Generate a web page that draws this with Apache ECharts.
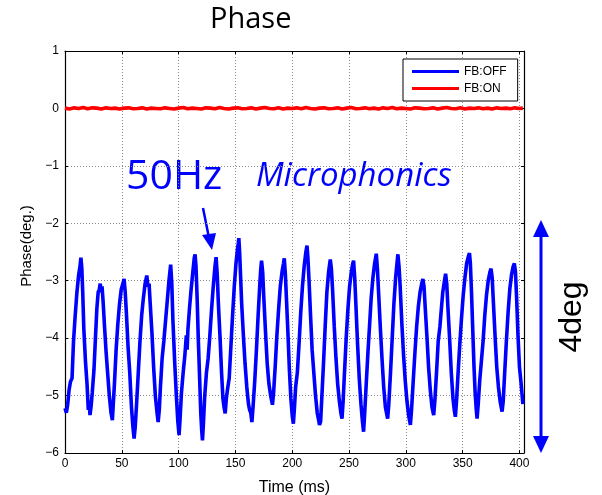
<!DOCTYPE html>
<html>
<head>
<meta charset="utf-8">
<script src="https://cdn.jsdelivr.net/npm/echarts@6/dist/echarts.min.js"></script>
<style>html,body{margin:0;padding:0;background:#fff;}#c{width:602px;height:495px;}</style>
</head>
<body>
<div id="c"></div>
<script>
const titleText = 'Phase';
const xName = 'Time (ms)';
const yName = 'Phase(deg.)';
const seriesNames = ['FB:OFF', 'FB:ON'];
const xTicks = [0, 50, 100, 150, 200, 250, 300, 350, 400];
const yTicks = [-6, -5, -4, -3, -2, -1, 0, 1];

// FB:OFF phase trace [time ms, phase deg]
const fbOff = [
[0,-5.22],[1.2,-5.3],[2.4,-5.15],[3.6,-4.9],[4.8,-4.76],[6.2,-4.7],[7.5,-4.05],[9,-3.6],[10.5,-3.2],[12,-2.9],[13.2,-2.75],[14,-2.6],[14.8,-2.78],[15.6,-3.2],[16.6,-3.85],[18,-4.4],[19.4,-4.8],[20.5,-5.25],[21.3,-5.12],[22,-5.34],[23,-5.18],
[24,-4.95],[25.5,-4.55],[26.8,-4.0],[28,-3.5],[29.2,-3.2],[30.2,-3.15],[31,-3.05],[31.8,-3.2],[32.6,-3.1],[33.5,-3.35],[34.8,-3.8],[36.2,-4.25],[37.5,-4.6],[39,-5.0],[40.5,-5.3],[41.7,-5.43],[42.5,-5.15],
[43.5,-4.8],[45,-4.2],[46.5,-3.75],[48,-3.4],[49.5,-3.15],[51,-3.05],[52,-2.97],[53,-3.2],[54,-3.55],[55.5,-4.15],[57,-4.6],[58.5,-5.2],[59.8,-5.55],[60.8,-5.75],[61.8,-5.55],
[63,-5.15],[64.5,-4.6],[66,-4.05],[67.5,-3.6],[69,-3.3],[70.5,-3.05],[71.3,-3.08],[72,-2.91],[73,-3.1],[74,-3.05],[75,-3.4],[76.5,-3.9],[78,-4.5],[79.5,-5.0],[81,-5.3],[82,-5.46],[83,-5.25],
[84,-4.85],[85.5,-4.35],[87,-4.05],[88.5,-3.7],[90,-3.35],[91.5,-3.0],[93,-2.72],[94,-3.05],[95,-3.7],[96.5,-4.4],[98,-5.0],[99.3,-5.45],[100.4,-5.69],[101.3,-5.4],
[102.5,-4.95],[104,-4.6],[105.5,-4.3],[106.8,-3.95],[107.5,-4.2],[108.2,-3.85],[109.5,-3.5],[111,-3.15],[112.5,-2.85],[113.8,-2.6],[114.5,-2.54],[115.3,-2.75],[116.3,-3.3],[117.3,-4.0],[118.5,-4.7],[119.5,-5.3],[120.3,-5.6],[121,-5.78],[121.8,-5.5],
[123,-5.0],[124.5,-4.6],[126,-4.35],[127.5,-3.95],[129,-3.5],[130.5,-3.1],[132,-2.75],[133,-2.59],[134,-2.9],[135,-3.4],[136.5,-4.0],[137.8,-4.6],[139,-5.05],[140,-5.2],[141,-5.31],[142,-5.05],[143,-4.9],
[144.5,-4.7],[146,-4.15],[147.5,-3.6],[149,-3.1],[150.5,-2.7],[151.8,-2.45],[152.5,-2.35],[153,-2.26],[153.7,-2.5],[154.5,-2.9],[155.5,-3.4],[157,-3.95],[158.5,-4.45],[160,-4.85],[161.5,-5.15],[162.5,-5.25],[163.5,-5.3],[164.5,-5.46],[165.5,-5.2],
[167,-4.75],[168.5,-4.2],[170,-3.6],[171.5,-3.05],[172.3,-2.8],[173,-2.65],[174,-2.85],[175,-3.3],[176.5,-3.9],[178,-4.45],[179.5,-4.8],[181,-5.0],[182.6,-5.16],[183.6,-4.95],
[185,-4.5],[186.5,-3.95],[188,-3.5],[189.5,-3.1],[191,-2.85],[192.3,-2.7],[193,-2.61],[194,-2.9],[195,-3.35],[196.3,-3.95],[197.5,-4.55],[198.8,-5.05],[200,-5.35],[201,-5.49],[202,-5.2],
[203,-4.85],[204.5,-4.6],[206,-4.1],[207.5,-3.55],[209,-3.1],[210.5,-2.75],[212,-2.5],[213,-2.39],[213.8,-2.6],[214.8,-3.0],[216,-3.55],[217.5,-4.2],[219,-4.6],[220.5,-5.0],[222,-5.3],[223,-5.4],[224,-5.51],[225,-5.45],
[226,-5.05],[227.5,-4.45],[229,-3.8],[230.5,-3.2],[232,-2.85],[233.5,-2.63],[234.5,-2.8],[235.5,-3.15],[237,-3.8],[238.5,-4.35],[240,-4.8],[241.5,-5.1],[242.8,-5.3],[243.8,-5.40],[244.8,-5.1],
[246,-4.6],[247.5,-4.0],[249,-3.5],[250.5,-3.1],[252,-2.85],[253.3,-2.7],[254,-2.65],[255,-2.95],[256,-3.4],[257.5,-4.1],[259,-4.7],[260.5,-5.15],[261.8,-5.45],[262.8,-5.63],[263.8,-5.3],
[265,-4.85],[266.5,-4.3],[268,-3.8],[269.5,-3.3],[271,-2.95],[272.5,-2.7],[274,-2.53],[275,-2.8],[276,-3.2],[277.5,-3.8],[279,-4.35],[280.5,-4.85],[282,-5.2],[283,-5.3],[284,-5.40],[285,-5.15],
[286.5,-4.6],[288,-4.0],[289.5,-3.4],[291,-2.95],[292.2,-2.7],[293,-2.54],[294,-2.75],[295,-3.1],[296.5,-3.75],[298,-4.3],[299.5,-4.75],[301,-5.1],[302.5,-5.35],[304,-5.51],[305,-5.25],
[306.5,-4.75],[308,-4.25],[309.5,-3.8],[311,-3.45],[312.5,-3.2],[314,-3.05],[315,-2.97],[316,-3.1],[317,-3.45],[318.5,-3.95],[320,-4.5],[321.5,-4.9],[323,-5.2],[324.5,-5.34],[325.5,-5.1],
[327,-4.6],[328.5,-4.05],[330,-3.8],[331,-3.55],[332.5,-3.2],[334,-3.0],[335,-2.88],[336,-3.05],[337,-3.45],[338.5,-4.0],[340,-4.6],[341.5,-5.05],[342.6,-5.25],[343.6,-5.37],[344.6,-5.1],
[346,-4.6],[347.5,-4.1],[349,-3.65],[350.5,-3.25],[352,-2.95],[353.5,-2.7],[355,-2.58],[356,-2.52],[356.8,-2.7],[357.8,-3.2],[358.8,-3.8],[360,-4.5],[361,-4.95],[362,-5.25],[362.7,-5.40],[363.7,-5.15],
[365,-4.75],[366.5,-4.4],[368,-4.05],[369.5,-3.6],[371,-3.25],[372.5,-3.0],[374,-2.85],[375,-2.79],[376,-2.95],[377,-3.35],[378.5,-3.95],[380,-4.5],[381.5,-4.85],[383,-5.1],[384.7,-5.28],[385.7,-5.1],
[387,-4.6],[388.5,-4.05],[390,-3.55],[391.5,-3.15],[393,-2.9],[394.5,-2.75],[395.5,-2.70],[396.5,-2.85],[397.5,-3.3],[398.7,-3.95],[400,-4.5],[401.5,-4.8],[403,-5.15]
];

// FB:ON phase trace: times (ms) and values (deg)
const fbOnTimes = [0,4,8,12,16,20,24,28,32,36,40,44,48,52,56,60,64,68,72,76,80,84,88,92,96,100,104,108,112,116,120,124,128,132,136,140,144,148,152,156,160,164,168,172,176,180,184,188,192,196,200,204,208,212,216,220,224,228,232,236,240,244,248,252,256,260,264,268,272,276,280,284,288,292,296,300,304,308,312,316,320,324,328,332,336,340,344,348,352,356,360,364,368,372,376,380,384,388,392,396,400,403];
const fbOnValues = [0.005,-0.01,0.01,0.00,0.015,-0.005,0.01,0.005,-0.01,0.01,0.00,0.005,-0.01,0.005,0.01,-0.005,0.00,0.01,-0.01,0.005,0.00,-0.005,0.01,0.00,-0.01,0.005,0.015,-0.005,0.005,0.00,-0.01,0.01,0.005,-0.005,0.015,0.00,-0.01,0.005,0.01,-0.005,0.00,0.01,-0.01,0.005,0.015,0.00,-0.005,0.01,-0.01,0.005,0.00,0.01,-0.005,0.015,0.00,-0.01,0.005,0.01,-0.005,0.00,0.01,-0.01,0.005,0.015,-0.005,0.00,0.01,-0.005,0.005,-0.01,0.01,0.00,0.015,-0.005,0.005,0.00,-0.01,0.01,0.005,-0.005,0.00,0.01,-0.01,0.005,0.015,0.00,-0.005,0.01,-0.01,0.005,0.00,0.01,-0.005,0.005,-0.01,0.01,0.00,0.005,-0.005,0.01,0.00,0.005];

const fbOn = fbOnTimes.map((t, i) => [t, fbOnValues[i]]);

const BLUE = '#0000ff';
const RED = '#ff0000';
const labelFont = 'Liberation Sans, Arial, sans-serif';
const fmt = v => String(v).replace('-', '\u2212');

const gridLine = { show: true, lineStyle: { color: '#8a8a8a', type: [1, 2], width: 1 } };
const tick = { show: true, inside: true, length: 3, lineStyle: { color: '#000' } };
const axLine = { show: true, onZero: false, lineStyle: { color: '#000', width: 1.2 } };

const chart = echarts.init(document.getElementById('c'), null, { renderer: 'canvas' });
chart.setOption({
  animation: false,
  backgroundColor: '#fff',
  title: {
    text: titleText, left: 205, top: 0,
    textStyle: { fontFamily: 'Open Sans', fontWeight: 'normal', fontSize: 29, color: '#000' }
  },
  grid: { left: 65, right: 78, top: 51, bottom: 42, containLabel: false, outerBoundsMode: 'none' },
  legend: {
    data: seriesNames,
    orient: 'vertical', left: 403, top: 59,
    icon: 'rect', itemWidth: 47, itemHeight: 3, itemGap: 4,
    padding: [6, 11, 6, 9],
    borderColor: '#000', borderWidth: 1, backgroundColor: '#fff',
    textStyle: { fontFamily: labelFont, fontSize: 12, color: '#000', lineHeight: 13 }
  },
  xAxis: [
    {
      type: 'value', min: 0, max: 404, interval: 50,
      name: xName, nameLocation: 'middle', nameGap: 27,
      nameTextStyle: { fontFamily: labelFont, fontSize: 16, color: '#000' },
      axisLine: axLine, axisTick: tick, splitLine: gridLine,
      axisLabel: { show: true, showMaxLabel: false, fontFamily: labelFont, fontSize: 12, color: '#000', margin: 5,
        formatter: v => xTicks.indexOf(v) >= 0 ? fmt(v) : '' }
    },
    {
      type: 'value', position: 'top', min: 0, max: 404, interval: 50,
      axisLine: axLine, axisTick: tick, splitLine: { show: false }, axisLabel: { show: false }
    }
  ],
  yAxis: [
    {
      type: 'value', min: -6, max: 1, interval: 1,
      name: yName, nameLocation: 'middle', nameGap: 28, nameRotate: 90,
      nameTextStyle: { fontFamily: labelFont, fontSize: 15, color: '#000', padding: [0, 0, 0, 12] },
      axisLine: axLine, axisTick: tick, splitLine: gridLine,
      axisLabel: { fontFamily: labelFont, fontSize: 12, color: '#000', margin: 6,
        formatter: v => yTicks.indexOf(v) >= 0 ? fmt(v) : '' }
    },
    {
      type: 'value', position: 'right', min: -6, max: 1, interval: 1,
      axisLine: axLine, axisTick: tick, splitLine: { show: false }, axisLabel: { show: false }
    }
  ],
  series: [
    { name: seriesNames[0], type: 'line', data: fbOff, showSymbol: false, symbol: 'none',
      lineStyle: { color: BLUE, width: 3.6 }, itemStyle: { color: BLUE }, z: 3 },
    { name: seriesNames[1], type: 'line', data: fbOn, showSymbol: false, symbol: 'none',
      lineStyle: { color: RED, width: 3.6 }, itemStyle: { color: RED }, z: 4 }
  ],
  graphic: [
    { type: 'text', left: 126, top: 157, style: { text: '50Hz', fill: BLUE, font: '41px "Open Sans"' } },
    { type: 'text', left: 256, top: 160, style: { text: 'Microphonics', fill: BLUE, font: 'italic 33px "Open Sans"' } },
    { type: 'line', shape: { x1: 203, y1: 208, x2: 209, y2: 238 }, style: { stroke: BLUE, lineWidth: 2.5 } },
    { type: 'polygon', shape: { points: [[202, 235], [212, 250], [216, 233]] }, style: { fill: BLUE } },
    { type: 'line', shape: { x1: 541, y1: 232, x2: 541, y2: 441 }, style: { stroke: BLUE, lineWidth: 3 } },
    { type: 'polygon', shape: { points: [[533, 237], [541, 220], [549, 237]] }, style: { fill: BLUE } },
    { type: 'polygon', shape: { points: [[533, 436], [541, 453], [549, 436]] }, style: { fill: BLUE } },
    { type: 'text', x: 572, y: 317, rotation: Math.PI / 2,
      style: { text: '4deg', fill: '#000', font: '32px "Liberation Sans"', align: 'center', verticalAlign: 'middle' } }
  ]
});
</script>
</body>
</html>
